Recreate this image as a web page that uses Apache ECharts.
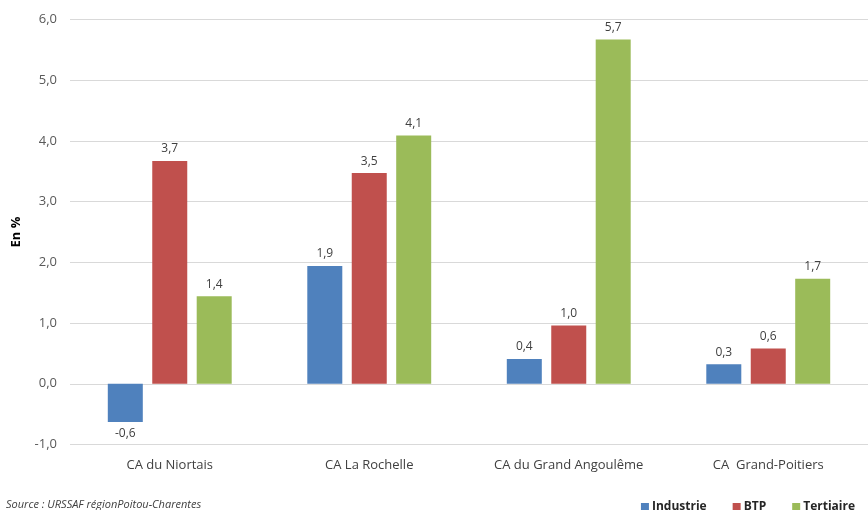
<!DOCTYPE html>
<html>
<head>
<meta charset="utf-8">
<script src="https://cdn.jsdelivr.net/npm/echarts@6/dist/echarts.min.js"></script>
<style>html,body{margin:0;padding:0;background:#fff}#c{width:868px;height:510px}</style>
</head>
<body>
<div id="c"></div>
<script>
var categories = ['CA du Niortais', 'CA La Rochelle', 'CA du Grand Angoulême', 'CA  Grand-Poitiers'];
var industrie = [-0.63, 1.94, 0.41, 0.32];
var btp = [3.67, 3.47, 0.96, 0.58];
var tertiaire = [1.44, 4.09, 5.67, 1.73];
var seriesNames = ['Industrie', 'BTP', 'Tertiaire'];
var colors = ['#4F81BD', '#C0504D', '#9BBB59'];
var sourceText = 'Source : URSSAF régionPoitou-Charentes';
var yTitle = 'En %';

var FONT = 'Open Sans';
function fmt(v) { return v.toFixed(1).replace('.', ','); }
function items(arr) {
  return arr.map(function (v) {
    return v < 0 ? { value: v, label: { position: 'bottom' } } : v;
  });
}
var chart = echarts.init(document.getElementById('c'), null, { renderer: 'canvas' });
var values = [industrie, btp, tertiaire];
chart.setOption({
  animation: false,
  color: colors,
  textStyle: { fontFamily: FONT },
  title: {
    text: sourceText, left: 1, top: 494,
    textStyle: { fontFamily: FONT, fontSize: 11, fontStyle: 'italic', fontWeight: 'normal', color: '#404040' }
  },
  legend: {
    data: seriesNames, right: 8, top: 496, icon: 'rect', itemWidth: 8, itemHeight: 8, itemGap: 26,
    textStyle: { fontFamily: FONT, fontSize: 12, fontWeight: 'bold', color: '#262626', padding: [0, 0, 0, -2] }
  },
  grid: { left: 70, top: 19.5, width: 800, height: 425 },
  xAxis: {
    type: 'category', data: categories,
    axisLine: { show: false }, axisTick: { show: false },
    axisLabel: { fontFamily: FONT, fontSize: 13, color: '#404040', margin: 14 }
  },
  yAxis: {
    type: 'value', min: -1, max: 6, interval: 1,
    name: yTitle, nameLocation: 'middle', nameGap: 47, nameRotate: 90,
    nameTextStyle: { fontFamily: FONT, fontSize: 13, fontWeight: 'bold', color: '#000' },
    axisLine: { show: false }, axisTick: { show: false },
    axisLabel: { fontFamily: FONT, fontSize: 13, color: '#595959', margin: 13, formatter: fmt },
    splitLine: { lineStyle: { color: '#d9d9d9', width: 1 } }
  },
  series: seriesNames.map(function (n, i) {
    return {
      name: n, type: 'bar', data: items(values[i]), barWidth: 35, barGap: '27%',
      itemStyle: { color: colors[i] },
      label: {
        show: true, position: 'top', distance: 6, fontFamily: FONT, fontSize: 12, color: '#404040',
        formatter: function (p) { return fmt(p.value); }
      }
    };
  })
});
</script>
</body>
</html>
